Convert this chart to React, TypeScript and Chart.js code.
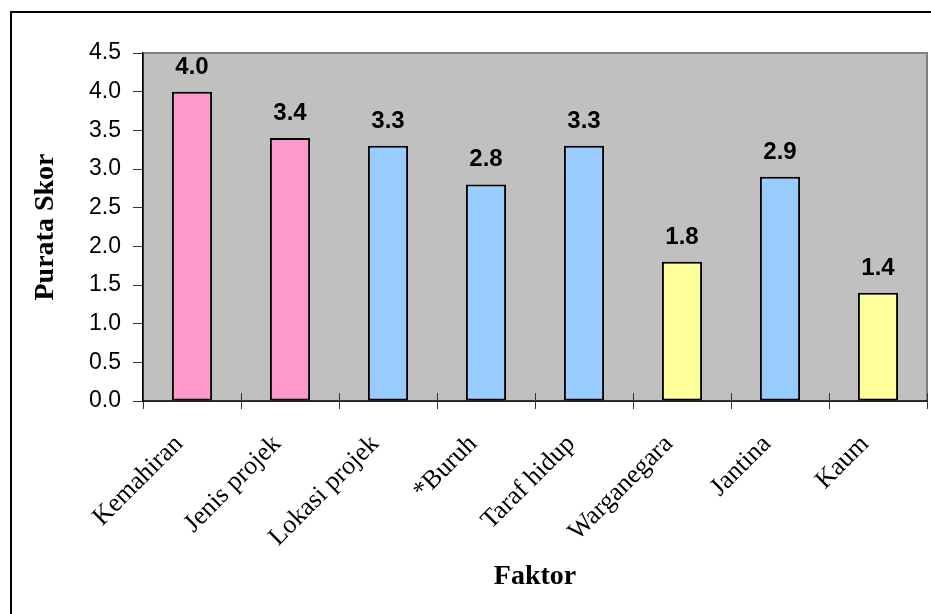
import React, { useEffect, useRef } from "react";
import { Chart, registerables } from "chart.js";

Chart.register(...registerables);

const categories = [
  "Kemahiran",
  "Jenis projek",
  "Lokasi projek",
  "*Buruh",
  "Taraf hidup",
  "Warganegara",
  "Jantina",
  "Kaum",
];
const values = [4.0, 3.4, 3.3, 2.8, 3.3, 1.8, 2.9, 1.4];
const barColors = [
  "#FF99CC",
  "#FF99CC",
  "#99CCFF",
  "#99CCFF",
  "#99CCFF",
  "#FFFF99",
  "#99CCFF",
  "#FFFF99",
];
const yMin = 0;
const yMax = 4.5;
const yStep = 0.5;
const yTitle = "Purata Skor";
const xTitle = "Faktor";

const W = 931;
const H = 614;

const decorPlugin = {
  id: "decor",
  beforeDatasetsDraw(chart: any) {
    const { ctx, chartArea } = chart;
    ctx.save();
    ctx.fillStyle = "#C0C0C0";
    ctx.fillRect(chartArea.left, chartArea.top, chartArea.right - chartArea.left, chartArea.bottom - chartArea.top);
    ctx.strokeStyle = "#808080";
    ctx.lineWidth = 2;
    ctx.beginPath();
    ctx.moveTo(chartArea.left, chartArea.top);
    ctx.lineTo(chartArea.right, chartArea.top);
    ctx.lineTo(chartArea.right, chartArea.bottom);
    ctx.stroke();
    ctx.restore();
  },
  afterDatasetsDraw(chart: any) {
    const { ctx, chartArea } = chart;
    ctx.save();
    // axis lines
    ctx.strokeStyle = "#000";
    ctx.lineWidth = 1.5;
    ctx.beginPath();
    ctx.moveTo(chartArea.left, chartArea.top);
    ctx.lineTo(chartArea.left, chartArea.bottom);
    ctx.lineTo(chartArea.right, chartArea.bottom);
    ctx.stroke();
    // upper half of x ticks
    const n = categories.length;
    const cw = (chartArea.right - chartArea.left) / n;
    ctx.lineWidth = 1;
    ctx.strokeStyle = "#333";
    ctx.beginPath();
    for (let i = 1; i <= n; i++) {
      const x = Math.round(chartArea.left + i * cw) + 0.5;
      ctx.moveTo(x, chartArea.bottom - 8);
      ctx.lineTo(x, chartArea.bottom);
    }
    ctx.stroke();
    // data labels
    const meta = chart.getDatasetMeta(0);
    ctx.fillStyle = "#000";
    ctx.font = "bold 24px 'Liberation Sans', Arial, sans-serif";
    ctx.textAlign = "center";
    ctx.textBaseline = "alphabetic";
    meta.data.forEach((bar: any, i: number) => {
      ctx.fillText(values[i].toFixed(1), bar.x, bar.y - 18);
    });
    // outer frame
    ctx.lineWidth = 2;
    ctx.strokeStyle = "#000";
    ctx.strokeRect(11, 12, W + 20, H + 20);
    ctx.restore();
  },
};

export default function App() {
  const ref = useRef<HTMLCanvasElement | null>(null);
  useEffect(() => {
    const canvas = ref.current;
    if (!canvas) return;
    const chart = new Chart(canvas, {
      type: "bar",
      data: {
        labels: categories,
        datasets: [
          {
            data: values,
            backgroundColor: barColors,
            borderColor: "#000",
            borderWidth: 2,
            borderSkipped: false,
            barPercentage: 0.41,
            categoryPercentage: 1,
          },
        ],
      },
      options: {
        responsive: false,
        animation: false,
        devicePixelRatio: 1,
        layout: { padding: { top: 53, right: 4, left: 0, bottom: 0 } },
        plugins: {
          legend: { display: false },
          tooltip: { enabled: false },
        },
        scales: {
          x: {
            grid: {
              offset: true,
              drawOnChartArea: false,
              drawTicks: true,
              tickLength: 8,
              tickColor: "#333",
            },
            border: { display: true, color: "#000", width: 1.5 },
            ticks: {
              minRotation: 45,
              maxRotation: 45,
              autoSkip: false,
              color: "#000",
              padding: 20,
              labelOffset: -13,
              font: { family: "'Liberation Serif', 'Times New Roman', serif", size: 26 },
            },
            title: {
              display: true,
              text: xTitle,
              color: "#000",
              font: { family: "'Liberation Serif', 'Times New Roman', serif", size: 28, weight: "bold" },
              padding: { top: 0, bottom: 20 },
            },
            afterFit(scale: any) {
              scale.height = 213;
            },
          },
          y: {
            min: yMin,
            max: yMax,
            ticks: {
              stepSize: yStep,
              color: "#000",
              padding: 12,
              font: { family: "'Liberation Sans', Arial, sans-serif", size: 23 },
              callback: (v: any) => Number(v).toFixed(1),
            },
            grid: {
              drawOnChartArea: false,
              drawTicks: true,
              tickLength: 10,
              tickColor: "#333",
            },
            border: { display: true, color: "#000", width: 1.5 },
            title: {
              display: true,
              text: yTitle,
              color: "#000",
              font: { family: "'Liberation Serif', 'Times New Roman', serif", size: 28, weight: "bold" },
              padding: { top: 29, bottom: 0 },
            },
            afterFit(scale: any) {
              scale.width = 143;
            },
          },
        },
      },
      plugins: [decorPlugin],
    });
    return () => chart.destroy();
  }, []);
  return (
    <div style={{ position: "fixed", left: 0, top: 0, width: W, height: H, background: "#fff" }}>
      <canvas ref={ref} width={W} height={H} style={{ display: "block", width: W, height: H }} />
    </div>
  );
}
